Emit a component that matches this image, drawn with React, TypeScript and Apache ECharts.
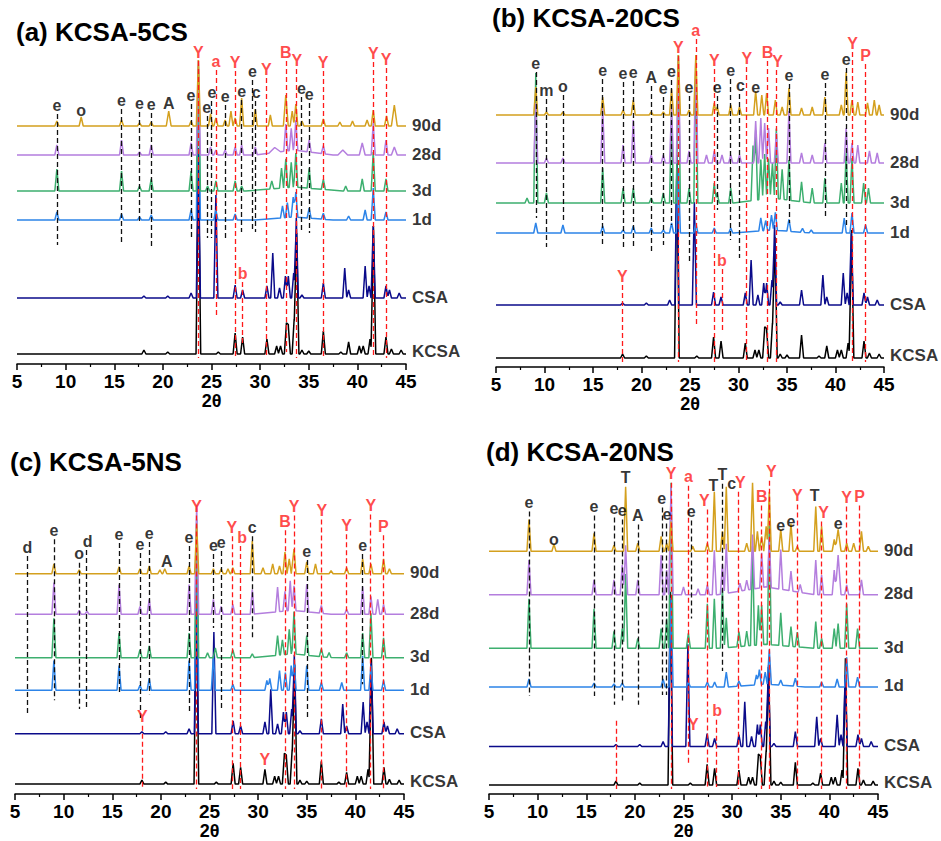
import React, { useEffect, useRef } from 'react';
import * as echarts from 'echarts';

const FONT = 'Liberation Sans, Arial, Helvetica, sans-serif';

// ---------- data ----------
const xTicks = [5, 10, 15, 20, 25, 30, 35, 40, 45];
const sampleNames = ['90d', '28d', '3d', '1d', 'CSA', 'KCSA'];
const panelTitles = ['(a) KCSA-5CS', '(b) KCSA-20CS', '(c) KCSA-5NS', '(d) KCSA-20NS'];

type Peak = number[]; // [2θ, intensity, optional half-width]

// reference materials (same in every panel)
const csaPeaks: Peak[] = [[18.05, 2], [20.5, 2], [22.9, 5], [23.65, 150], [25.45, 103], [27.43, 13], [28.2, 8], [30.7, 12], [31.3, 45], [32.0, 10], [32.6, 22], [32.9, 22], [33.45, 25], [33.72, 80], [34.3, 3], [36.5, 15], [38.7, 30], [39.1, 8], [40.8, 32], [41.2, 12], [41.63, 72], [42.94, 12], [43.3, 8], [44.3, 5]];
const kcsaPeaks: Peak[] = [[18.05, 4], [20.5, 2], [23.65, 195, 0.24], [25.7, 2], [27.43, 21], [28.2, 17], [30.7, 15], [31.7, 8], [32.1, 8], [32.7, 30], [32.9, 28], [33.5, 35], [33.75, 121, 0.24], [34.3, 4], [35.0, 3], [36.5, 23], [38.3, 2], [39.1, 12], [40.2, 8], [40.6, 8], [41.3, 15], [41.65, 128, 0.24], [42.94, 17], [43.5, 5], [44.5, 4]];

// (a) KCSA-5CS
const a90: Peak[] = [[9.1, 5], [11.6, 9], [15.75, 6], [17.6, 3], [18.8, 4], [20.6, 15, 0.25], [22.9, 5], [23.65, 66], [24.9, 12], [25.45, 8], [26.4, 6], [27.0, 15], [27.43, 8], [28.1, 28], [29.5, 17], [31.05, 11], [32.64, 31, 0.25], [33.3, 15], [33.67, 22], [34.3, 5], [36.5, 7], [38.2, 4], [39.5, 5], [41.0, 6], [41.63, 16], [43.0, 10], [43.8, 21, 0.3]];
const a28: Peak[] = [[9.1, 10], [15.75, 15], [17.6, 3], [18.8, 10], [22.9, 12], [23.65, 95], [24.9, 8], [25.45, 5], [26.4, 5], [27.43, 8], [28.1, 10], [29.5, 8], [31.5, 5, 0.6], [32.64, 27], [33.2, 22], [33.67, 30], [35.04, 12], [36.5, 8], [38.5, 5, 0.5], [40.5, 12, 0.3], [41.63, 32], [42.94, 15], [43.8, 8, 0.3], [33.5, 5, 4]];
const a3: Peak[] = [[9.1, 22], [15.75, 20], [17.6, 5], [18.8, 12], [22.9, 20], [23.65, 125], [24.6, 5], [25.45, 10], [27.43, 10], [28.1, 5], [31.2, 8], [32.2, 20], [32.64, 29], [33.2, 25], [33.67, 34], [35.04, 20], [36.5, 10], [38.8, 5], [40.5, 12], [41.63, 39], [42.94, 12], [33.5, 4, 5]];
const a1: Peak[] = [[9.1, 8], [15.75, 6], [17.6, 3], [18.8, 5], [22.9, 10], [23.65, 150], [25.45, 10], [27.43, 6], [32.3, 12], [32.8, 15], [33.4, 20], [33.67, 25], [35.04, 10], [36.5, 6], [39.1, 4], [40.8, 10], [41.63, 32], [42.94, 8], [33.5, 3, 4]];

// (b) KCSA-20CS
const b90: Peak[] = [[9.1, 28], [10.2, 3], [11.9, 3], [16.0, 18], [18.1, 5], [19.15, 15], [21.0, 3], [22.25, 3], [23.1, 26], [23.8, 60], [24.9, 5], [25.6, 60], [27.5, 12], [27.8, 8], [29.2, 10], [30.1, 8], [31.77, 24], [32.4, 20], [32.9, 22], [33.8, 15], [34.5, 8], [35.2, 27], [36.5, 7], [37.6, 8], [38.9, 18], [40.6, 10], [41.1, 43], [41.7, 15], [42.3, 13], [43.3, 12], [44.0, 15], [44.5, 10]];
const b28: Peak[] = [[9.1, 60], [10.2, 5], [11.9, 5], [16.0, 55], [18.1, 18], [19.15, 43], [21.0, 8], [22.25, 8], [23.1, 55], [23.8, 105], [24.9, 12], [25.6, 105], [26.7, 8], [27.5, 12], [28.3, 8], [29.2, 8], [30.1, 8], [31.77, 42], [32.3, 45], [32.7, 40], [33.1, 35], [33.9, 30], [35.2, 52], [36.5, 10], [37.6, 8], [38.9, 20], [41.1, 35], [41.7, 20], [42.3, 18], [43.5, 12], [44.3, 10]];
const b3: Peak[] = [[8.2, 5], [9.1, 130], [10.2, 10], [16.0, 35], [18.1, 15], [19.15, 15], [21.0, 5], [22.25, 10], [23.1, 90], [23.8, 148], [24.9, 15], [25.6, 135], [27.5, 20], [27.8, 10], [29.2, 15], [31.5, 55], [31.77, 70], [32.3, 40], [32.7, 45], [33.1, 40], [33.5, 35], [33.9, 70], [34.5, 30], [35.2, 40], [36.5, 20], [37.6, 15], [38.9, 25], [40.6, 20], [41.1, 50], [41.7, 45], [42.9, 20], [43.4, 15], [33.5, 5, 4]];
const b1: Peak[] = [[9.1, 10], [11.9, 8], [16.0, 7], [18.1, 3], [19.15, 7], [21.0, 5], [22.25, 3], [23.1, 10], [23.8, 65], [25.6, 10], [27.5, 5], [29.2, 5], [32.3, 13], [32.8, 10], [33.4, 15], [33.8, 18], [35.2, 12], [36.6, 4], [37.5, 3], [40.9, 15], [41.7, 20], [43.1, 8], [33.5, 3, 4]];

// (c) KCSA-5NS
const c90: Peak[] = [[9.0, 10], [11.6, 4], [15.7, 7], [17.85, 5], [18.8, 8], [19.9, 4], [20.4, 5], [22.9, 8], [23.68, 50], [25.4, 5], [26.2, 5], [26.9, 5], [27.4, 6], [29.4, 33], [30.5, 6], [31.5, 10], [32.2, 8], [32.76, 22], [33.2, 15], [33.69, 25], [35.0, 12], [35.9, 10], [37.5, 3], [39.1, 6], [40.75, 15], [41.6, 10], [42.9, 15], [43.5, 5]];
const c28: Peak[] = [[9.0, 32], [11.6, 4], [12.4, 3], [15.7, 30], [17.85, 8], [18.8, 15], [22.9, 30], [23.68, 110], [25.4, 15], [26.2, 8], [27.4, 10], [29.4, 25], [32.0, 25], [32.76, 20], [33.3, 30], [33.69, 25], [35.0, 28], [36.5, 8], [39.1, 5], [40.75, 28], [41.6, 18], [42.3, 15], [42.9, 10], [33.5, 4, 4]];
const c3: Peak[] = [[9.0, 40], [15.7, 25], [17.85, 8], [18.8, 12], [22.9, 25], [23.68, 140], [24.8, 5], [25.6, 10], [27.4, 8], [29.4, 4], [32.0, 20], [32.5, 15], [33.2, 25], [33.69, 43], [35.0, 20], [36.5, 8], [37.3, 5], [39.1, 5], [40.75, 25], [41.6, 45], [42.9, 20], [33.5, 4, 4]];
const c1: Peak[] = [[9.0, 30], [15.7, 25], [17.85, 5], [18.8, 12], [22.9, 30], [23.68, 150], [25.4, 35], [27.4, 6], [30.9, 10], [31.2, 12], [32.2, 20], [32.8, 18], [33.4, 25], [33.7, 30], [35.0, 25], [36.5, 8], [38.6, 8], [40.75, 35], [41.6, 25], [42.9, 10]];

// (d) KCSA-20NS
const d90: Peak[] = [[9.11, 32], [11.68, 7], [15.8, 18], [17.85, 6], [19.05, 65], [20.3, 8], [22.7, 15], [23.27, 8], [23.72, 30], [25.95, 5], [27.45, 8], [28.17, 60], [29.0, 20], [29.4, 65], [31.5, 8], [32.1, 69], [32.6, 20], [33.04, 15], [33.5, 25], [33.82, 60], [35.0, 22], [36.05, 28], [36.7, 5], [38.6, 45], [39.2, 25], [40.5, 12], [40.9, 22, 0.3], [41.78, 8], [42.5, 8], [43.3, 20], [44.0, 5]];
const d28: Peak[] = [[9.11, 35], [15.8, 15], [17.85, 15], [18.7, 30], [19.05, 50], [20.3, 15], [22.7, 40], [23.27, 25], [23.72, 110], [25.0, 8], [26.5, 6], [27.45, 10], [28.17, 45], [29.0, 30], [29.4, 50], [30.8, 8], [31.5, 10], [32.1, 55], [33.04, 35], [33.82, 50], [35.0, 40], [36.05, 20], [37.0, 8], [38.6, 35], [39.2, 20], [40.5, 25], [40.9, 40, 0.3], [41.78, 10], [43.3, 15], [33.5, 8, 5]];
const d3: Peak[] = [[9.11, 50], [15.8, 40], [17.85, 17], [18.7, 20], [19.05, 75], [20.3, 10], [22.7, 20], [23.27, 30], [23.72, 167], [25.5, 15], [27.45, 45], [28.17, 50], [29.0, 60], [29.4, 30], [30.7, 15], [31.5, 15], [32.1, 100], [32.7, 40], [33.04, 40], [33.82, 120], [35.0, 33], [36.05, 20], [36.7, 15], [38.6, 27], [39.2, 10], [40.5, 20], [40.9, 25], [41.78, 45], [42.9, 20], [33.5, 4, 5]];
const d1: Peak[] = [[9.11, 8], [15.8, 4], [17.85, 3], [18.7, 4], [22.9, 8], [23.72, 90], [25.5, 5], [27.45, 5], [28.2, 5], [29.4, 15], [30.7, 5], [32.5, 10], [32.8, 15], [33.4, 12], [33.82, 35], [35.0, 5], [36.5, 8], [39.2, 5], [40.8, 8], [41.78, 30], [42.9, 10], [33.5, 3, 4]];

// phase markers: [2θ, phase letter]
const phasesA: [number, string][] = [[9.1, 'e'], [11.6, 'o'], [15.75, 'e'], [17.6, 'e'], [18.8, 'e'], [20.6, 'A'], [22.9, 'e'], [23.65, 'Y'], [24.6, 'e'], [24.95, 'e'], [25.45, 'a'], [26.4, 'e'], [27.43, 'Y'], [28.1, 'e'], [28.2, 'b'], [29.2, 'e'], [29.5, 'c'], [30.65, 'Y'], [32.64, 'B'], [33.67, 'Y'], [34.26, 'e'], [35.04, 'e'], [36.48, 'Y'], [41.63, 'Y'], [42.94, 'Y']];
const phasesB: [number, string][] = [[9.1, 'e'], [10.2, 'm'], [11.9, 'o'], [16.0, 'e'], [18.02, 'Y'], [18.1, 'e'], [19.15, 'e'], [21.0, 'A'], [22.25, 'e'], [23.1, 'e'], [23.8, 'Y'], [24.9, 'e'], [25.6, 'a'], [27.5, 'Y'], [27.8, 'e'], [28.3, 'b'], [29.2, 'e'], [30.1, 'c'], [30.85, 'Y'], [31.77, 'e'], [33.0, 'B'], [33.93, 'Y'], [35.2, 'e'], [38.9, 'e'], [41.1, 'e'], [41.77, 'Y'], [43.1, 'P']];
const phasesC: [number, string][] = [[6.27, 'd'], [9.0, 'e'], [11.6, 'o'], [12.37, 'd'], [15.7, 'e'], [17.85, 'e'], [18.09, 'Y'], [18.8, 'e'], [20.6, 'A'], [22.9, 'e'], [23.68, 'Y'], [25.4, 'e'], [26.2, 'e'], [27.39, 'Y'], [28.14, 'b'], [29.4, 'c'], [30.7, 'Y'], [32.76, 'B'], [33.69, 'Y'], [35.0, 'e'], [36.54, 'Y'], [39.1, 'Y'], [40.75, 'e'], [41.58, 'Y'], [42.87, 'P']];
const phasesD: [number, string][] = [[9.11, 'e'], [11.68, 'o'], [15.8, 'e'], [17.85, 'e'], [18.1, ''], [18.7, 'e'], [19.05, 'T'], [20.3, 'A'], [22.85, 'e'], [23.2, 'e'], [23.72, 'Y'], [25.5, 'a'], [25.8, 'e'], [26.0, 'Y'], [27.45, 'Y'], [28.17, 'T'], [28.35, 'b'], [29.0, 'T'], [29.54, 'c'], [30.64, 'Y'], [33.04, 'B'], [33.82, 'Y'], [35.0, 'e'], [36.05, 'e'], [36.7, 'Y'], [38.6, 'T'], [39.2, 'Y'], [40.9, 'e'], [41.78, 'Y'], [43.1, 'P']];

// ---------- layout ----------
// annotation layout per marker: [label centre x shift in px, label centre y px, dashed-line bottom y px (0 = none)]
const layoutA = [[0, 105, 245], [0, 110, 0], [0, 100, 242], [0, 103, 223], [0, 104, 247], [0, 103, 0], [0, 95, 238], [0, 52, 358], [-1, 107, 238], [1, 92, 238], [0, 61, 315], [0, 96, 238], [0, 62, 358], [0, 91, 232], [0, 273, 345], [0, 71, 232], [1, 92, 232], [0, 69, 358], [0, 52, 352], [1, 60, 358], [0, 88, 232], [0, 94, 233], [0, 62, 358], [0, 53, 358], [0, 59, 358]];
const layoutB = [[0, 63, 218], [0, 90, 247], [0, 86, 223], [0, 70, 247], [0, 276, 362], [0, 73, 250], [0, 72, 248], [0, 77, 253], [0, 88, 245], [0, 71, 225], [0, 47, 362], [0, 87, 262], [0, 30, 327], [0, 60, 362], [0, 87, 210], [0, 260, 330], [0, 70, 240], [1, 85, 258], [0, 58, 362], [0, 87, 0], [0, 52, 362], [1, 61, 362], [0, 75, 223], [0, 74, 218], [0, 59, 225], [0, 43, 362], [0, 55, 362]];
const layoutC = [[0, 548, 718], [0, 531, 703], [0, 555, 712], [1, 542, 712], [0, 535, 697], [0, 545, 723], [0, 720, 793], [0, 534, 697], [0, 563, 0], [0, 538, 717], [0, 507, 793], [0, 546, 630], [0, 543, 712], [-1, 528, 793], [2, 538, 793], [0, 528, 640], [0, 763, 0], [0, 522, 793], [0, 507, 793], [0, 552, 720], [0, 511, 793], [0, 526, 793], [0, 546, 687], [0, 506, 793], [0, 527, 793]];
const layoutD = [[0, 503, 698], [0, 540, 0], [0, 507, 698], [0, 509, 707], [0, 723, 792], [0, 511, 703], [0, 478, 0], [0, 516, 707], [-1, 499, 697], [1, 515, 697], [0, 474, 792], [0, 477, 767], [0, 512, 620], [0, 727, 0], [-3, 501, 792], [-1, 486, 0], [1, 713, 790], [0, 475, 673], [4, 484, 0], [2, 483, 792], [0, 497, 792], [2, 472, 792], [0, 526, 0], [0, 522, 0], [0, 496, 792], [-1, 496, 0], [2, 513, 792], [0, 524, 0], [0, 498, 792], [0, 497, 792]];

const grids = [
  { left: 17, top: 20, width: 389, height: 344 },
  { left: 496, top: 20, width: 388, height: 347 },
  { left: 15, top: 470, width: 389, height: 328 },
  { left: 489, top: 460, width: 389, height: 337 },
];
const titlePos = [[16, 19], [492, 5], [10, 449], [486, 439]];
// vertical offsets (px above axis) of each pattern: 90d, 28d, 3d, 1d, CSA, KCSA
const offsets = [
  [238, 209, 173, 144, 66, 10],
  [252, 204, 164, 134, 62, 9],
  [223, 182, 138, 105, 61, 10],
  [245, 201, 147, 108, 48, 9],
];
const colors = ['#D4A01E', '#B47EDE', '#3DAF6F', '#2D84E8', '#0B0B8A', '#000000'];
const RED = '#FF1A1A';
const redLetters = ['Y', 'a', 'b', 'B', 'P', ''];

const panelTraces = [
  [a90, a28, a3, a1, csaPeaks, kcsaPeaks],
  [b90, b28, b3, b1, csaPeaks, kcsaPeaks],
  [c90, c28, c3, c1, csaPeaks, kcsaPeaks],
  [d90, d28, d3, d1, csaPeaks, kcsaPeaks],
];
const panelPhases = [phasesA, phasesB, phasesC, phasesD];
const panelLayouts = [layoutA, layoutB, layoutC, layoutD];

const DEFAULT_HW = 0.21;

function profile(peaks: Peak[], offset: number): number[][] {
  const xs = new Set<number>([5, 45]);
  peaks.forEach((p) => {
    const w = p[2] ?? DEFAULT_HW;
    xs.add(+(p[0] - w).toFixed(3));
    xs.add(p[0]);
    xs.add(+(p[0] + w).toFixed(3));
  });
  const sorted = Array.from(xs).filter((x) => x >= 5 && x <= 45).sort((a, b) => a - b);
  return sorted.map((x) => {
    let y = 0;
    peaks.forEach((p) => {
      const w = p[2] ?? DEFAULT_HW;
      const d = Math.abs(x - p[0]);
      if (d < w) y += p[1] * (1 - d / w);
    });
    return [x, offset + y];
  });
}

function buildOption() {
  const series: any[] = [];
  const xAxis: any[] = [];
  const yAxis: any[] = [];
  const graphic: any[] = [];
  grids.forEach((g, i) => {
    const axisY = g.top + g.height;
    const pxPerUnit = g.width / 40;
    xAxis.push({
      gridIndex: i, type: 'value', min: xTicks[0], max: xTicks[xTicks.length - 1], interval: 5,
      name: '2θ', nameLocation: 'middle', nameGap: 28,
      nameTextStyle: { fontFamily: FONT, fontSize: 18, fontWeight: 'bold', color: '#000' },
      axisLine: { show: true, lineStyle: { color: '#000', width: 1.5 } },
      axisTick: { show: true, length: 6, lineStyle: { color: '#000', width: 1.5 } },
      minorTick: { show: true, splitNumber: 2, length: 3, lineStyle: { color: '#000', width: 1.2 } },
      axisLabel: { fontFamily: FONT, fontSize: 19, fontWeight: 'bold', color: '#000', margin: 8 },
      splitLine: { show: false },
    });
    yAxis.push({ gridIndex: i, type: 'value', min: 0, max: g.height, show: false, splitLine: { show: false } });
    const traces = panelTraces[i];
    for (let k = traces.length - 1; k >= 0; k--) {
      series.push({
        type: 'line', name: sampleNames[k], xAxisIndex: i, yAxisIndex: i,
        data: profile(traces[k], offsets[i][k]), showSymbol: false, symbol: 'none',
        lineStyle: { color: colors[k], width: 1.5 }, z: 2,
      });
    }
    // sample names
    series.push({
      type: 'scatter', xAxisIndex: i, yAxisIndex: i, symbolSize: 0.1, z: 4,
      itemStyle: { color: 'transparent' },
      data: sampleNames.map((n, k) => ({ name: n, value: [45, offsets[i][k] + (k === 5 ? 3 : 1)] })),
      label: { show: true, position: 'right', distance: 6, formatter: '{b}', fontFamily: FONT, fontSize: 17, fontWeight: 'bold', color: '#000' },
    });
    // phase markers
    const phases = panelPhases[i];
    const lay = panelLayouts[i];
    const lines: any[] = [];
    const labels: any[] = [];
    phases.forEach((p, j) => {
      const [dx, ly, lb] = lay[j];
      const red = redLetters.includes(p[1]);
      const col = red ? RED : '#111';
      if (lb > 0) {
        lines.push([
          { coord: [p[0], axisY - (p[1] === '' ? ly : ly + 9)], lineStyle: { color: col } },
          { coord: [p[0], axisY - lb] },
        ]);
      }
      if (p[1] !== '') {
        labels.push({
          name: p[1], value: [p[0] + dx / pxPerUnit, axisY - ly],
          label: { color: red ? RED : '#000' },
        });
      }
    });
    series.push({
      type: 'scatter', xAxisIndex: i, yAxisIndex: i, symbolSize: 0.1, z: 5,
      itemStyle: { color: 'transparent' },
      data: labels,
      label: { show: true, position: 'inside', formatter: '{b}', fontFamily: FONT, fontSize: 16, fontWeight: 'bold' },
      markLine: {
        silent: true, symbol: ['none', 'none'], label: { show: false },
        lineStyle: { type: [5, 3], width: 1.3 }, data: lines, z: 5,
      },
    });
    graphic.push({
      type: 'text', left: titlePos[i][0], top: titlePos[i][1], z: 10,
      style: { text: panelTitles[i], font: `bold 26px ${FONT}`, fill: '#000' },
    });
  });
  return {
    animation: false,
    backgroundColor: '#fff',
    grid: grids.map((g) => ({ ...g, containLabel: false })),
    xAxis, yAxis, series, graphic,
  };
}

export default function App() {
  const ref = useRef<HTMLDivElement>(null);
  useEffect(() => {
    document.body.style.margin = '0';
    if (!ref.current) return;
    const chart = echarts.init(ref.current, undefined, { renderer: 'svg' });
    chart.setOption(buildOption() as any);
    return () => chart.dispose();
  }, []);
  return <div ref={ref} style={{ width: 941, height: 841 }} />;
}
